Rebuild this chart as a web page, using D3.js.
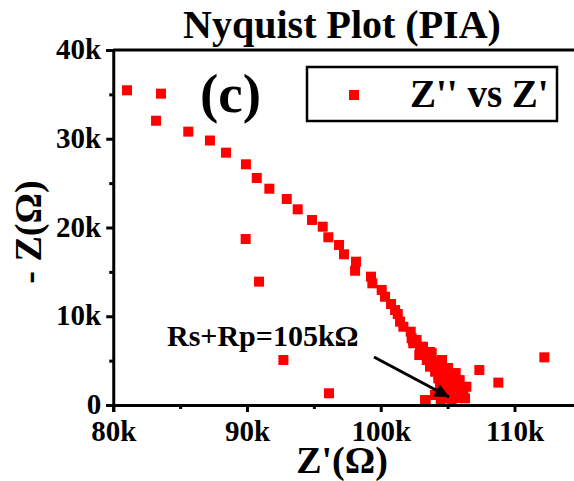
<!DOCTYPE html>
<html><head><meta charset="utf-8">
<script src="https://cdn.jsdelivr.net/npm/d3@7"></script>
<style>body{margin:0;background:#fff}svg{display:block}text{font-family:"Liberation Serif","Times New Roman",serif;font-weight:bold}</style>
</head><body>
<svg id="chart" width="574" height="481"></svg>
<script>
// Z' (real part, Ohm)
const zReal = [81030,83570,83200,85610,87230,88430,89920,90730,91670,92970,93790,94860,95660,96080,96880,97250,98150,98080,99270,99370,100070,100320,100770,101070,101270,101440,101690,102240,102310,102680,102430,103060,102930,103810,102880,103440,103680,104060,104300,105050,105680,104930,105430,106170,104930,104060,106300,105050,104480,105300,103360,106400,105900,104200,104900,105600,
  102410,103160,102930,103680,103830,104580,104280,105030,104800,105550,104430,105180,105930,104060,104800,105780,103310,106080,105330,
  89900,90900,92720,96130,107370,108790,112230];
// -Z'' (imaginary part, Ohm)
const zImag = [35460,35080,32030,30800,29800,28430,27120,25580,24370,23210,22050,20850,20090,18900,18030,16980,16150,15130,14460,13710,12960,12200,11380,10700,10250,9390,8820,8260,7520,7320,6950,6570,6200,5830,5630,5070,4320,3750,3000,3380,2820,2450,2060,1690,1500,1130,750,750,560,560,370,2060,2800,4600,3900,3600,
  7320,6540,5630,5970,4850,5070,3940,4170,2820,3040,1920,1690,1920,1130,790,790,560,1130,2480,
  18700,13900,5070,1320,3940,2520,5370];
const xTicks = [80000,90000,100000,110000];
const xMinor = [85000,95000,105000];
const yTicks = [0,10000,20000,30000,40000];
const yMinor = [5000,15000,25000,35000];
const fmtK = d => d === 0 ? "0" : (d/1000) + "k";

const svg = d3.select("#chart");
const x = d3.scaleLinear().domain([80000,115000]).range([113.25,581.4]);
const y = d3.scaleLinear().domain([0,40000]).range([405,50]);

// frame top/right
svg.append("path").attr("d",`M${x(80000)},${y(40000)}H${x(115000)}V${y(0)}`)
  .attr("fill","none").attr("stroke","#000").attr("stroke-width",3);

// points
svg.append("g").selectAll("rect").data(zReal.map((v,i)=>[v,zImag[i]])).join("rect")
  .attr("x",d=>x(d[0])-5).attr("y",d=>y(d[1])-5).attr("width",10).attr("height",10).attr("fill","#ff0000");

// x axis
const gx = svg.append("g").attr("transform",`translate(0,${y(0)})`)
  .call(d3.axisBottom(x).tickValues(xTicks).tickFormat(fmtK).tickSize(7).tickPadding(5));
svg.append("g").attr("transform",`translate(0,${y(0)})`)
  .call(d3.axisBottom(x).tickValues(xMinor).tickFormat("").tickSize(4))
  .select(".domain").remove();
// y axis
const gy = svg.append("g").attr("transform",`translate(${x(80000)},0)`)
  .call(d3.axisLeft(y).tickValues(yTicks).tickFormat(fmtK).tickSize(7).tickPadding(5));
svg.append("g").attr("transform",`translate(${x(80000)},0)`)
  .call(d3.axisLeft(y).tickValues(yMinor).tickFormat("").tickSize(4))
  .select(".domain").remove();
svg.selectAll(".domain").attr("stroke-width",3).attr("stroke","#000");
svg.selectAll(".tick line").attr("stroke-width",3).attr("stroke","#000");
svg.selectAll(".tick text").attr("font-size",29).attr("font-family","Liberation Serif").attr("font-weight","bold").attr("fill","#000");
gx.selectAll(".tick text").attr("dy","0.82em");
gy.selectAll(".tick text").attr("dy","0.3em");

// title
svg.append("text").attr("x",342).attr("y",38).attr("text-anchor","middle").attr("font-size",40).text("Nyquist Plot (PIA)");
// axis titles
svg.append("text").attr("x",342).attr("y",473).attr("text-anchor","middle").attr("font-size",38).text("Z'(Ω)");
svg.append("text").attr("transform","translate(41,232) rotate(-90)").attr("text-anchor","middle").attr("font-size",38).text("- Z(Ω)");
// panel label
svg.append("text").attr("x",200).attr("y",112).attr("font-size",55).text("(c)");
// legend
svg.append("rect").attr("x",307).attr("y",67).attr("width",250).attr("height",54).attr("fill","#fff").attr("stroke","#000").attr("stroke-width",2.5);
svg.append("rect").attr("x",349).attr("y",90).attr("width",10).attr("height",10).attr("fill","#ff0000");
svg.append("text").attr("x",410).attr("y",107).attr("font-size",39).text("Z'' vs Z'");
// annotation
svg.append("defs").append("marker").attr("id","ah").attr("viewBox","0 0 10 10").attr("refX",10).attr("refY",5)
  .attr("markerUnits","userSpaceOnUse").attr("orient","auto")
  .attr("markerWidth",22).attr("markerHeight",14)
  .append("path").attr("d","M0,0L10,5L0,10z").attr("fill","#000");
svg.append("line").attr("x1",374).attr("y1",357).attr("x2",449).attr("y2",397)
  .attr("stroke","#000").attr("stroke-width",3).attr("marker-end","url(#ah)");
svg.append("text").attr("x",167).attr("y",346).attr("font-size",30).text("Rs+Rp=105kΩ");
</script>
</body></html>
